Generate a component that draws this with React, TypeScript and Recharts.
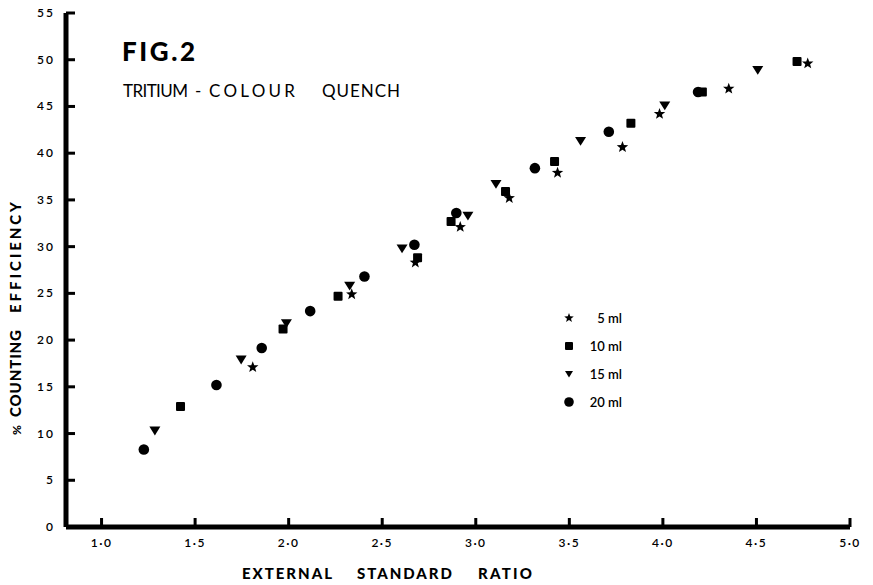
import React from 'react';
import { ScatterChart, Scatter, XAxis, YAxis, Legend, ReferenceLine } from 'recharts';

// % counting efficiency vs external standard ratio, per sample volume
const ml5X = [1.808, 2.337, 2.677, 2.917, 3.179, 3.437, 3.784, 3.982, 4.352, 4.774];
const ml5Y = [17.1, 24.9, 28.3, 32.1, 35.2, 37.9, 40.65, 44.2, 46.9, 49.6];

const ml10X = [1.422, 1.97, 2.264, 2.689, 2.868, 3.159, 3.421, 3.829, 4.211, 4.717];
const ml10Y = [12.9, 21.2, 24.7, 28.8, 32.7, 35.9, 39.1, 43.2, 46.55, 49.8];

const ml15X = [1.285, 1.746, 1.988, 2.326, 2.606, 2.958, 3.108, 3.56, 4.01, 4.507];
const ml15Y = [10.3, 17.9, 21.8, 25.8, 29.8, 33.3, 36.7, 41.3, 45.1, 48.9];

const ml20X = [1.226, 1.614, 1.856, 2.115, 2.405, 2.672, 2.896, 3.316, 3.711, 4.188];
const ml20Y = [8.3, 15.2, 19.15, 23.1, 26.8, 30.2, 33.6, 38.4, 42.3, 46.55];

const seriesNames = ['5 ml', '10 ml', '15 ml', '20 ml'];
const xTicks = [1, 1.5, 2, 2.5, 3, 3.5, 4, 4.5, 5];
const yTicks = [0, 5, 10, 15, 20, 25, 30, 35, 40, 45, 50, 55];
const X_MIN = 0.81;

const toPoints = (xs: number[], ys: number[]) => xs.map((x, i) => ({ x, y: ys[i] }));

const FONT = 'Lato, "Open Sans", sans-serif';
const INK = '#000';

function starPath(cx: number, cy: number, r: number) {
  const pts: string[] = [];
  for (let i = 0; i < 10; i++) {
    const rad = i % 2 === 0 ? r : r * 0.42;
    const a = -Math.PI / 2 + (i * Math.PI) / 5;
    pts.push(`${cx + rad * Math.cos(a)},${cy + rad * Math.sin(a)}`);
  }
  return `M${pts.join('L')}Z`;
}

const Star = ({ cx, cy, s = 6 }: any) => <path d={starPath(cx, cy, s)} fill={INK} />;
const Square = ({ cx, cy, s = 4.5 }: any) => (
  <rect x={cx - s} y={cy - s} width={s * 2} height={s * 2} rx={1} fill={INK} />
);
const TriDown = ({ cx, cy, s = 5.5 }: any) => (
  <path d={`M${cx - s},${cy - s * 0.75}L${cx + s},${cy - s * 0.75}L${cx},${cy + s * 0.85}Z`} fill={INK} />
);
const Dot = ({ cx, cy, s = 5.3 }: any) => <circle cx={cx} cy={cy} r={s} fill={INK} />;

const XTick = ({ x, y, payload }: any) => (
  <g>
    <rect x={x - 1.5} y={y - 19} width={3} height={9} fill={INK} />
    <text x={x} y={y + 10} textAnchor="middle" fontFamily={FONT} fontSize={12} fontWeight={600} letterSpacing={1.5} fill={INK}>
      {payload.value.toFixed(1).replace('.', '·')}
    </text>
  </g>
);

const YTick = ({ x, y, payload }: any) => (
  <g>
    <rect x={x + 12} y={y - 1.5} width={9} height={3} fill={INK} />
    <text x={x + 1} y={y + 4} textAnchor="end" fontFamily={FONT} fontSize={12} fontWeight={600} letterSpacing={2} fill={INK}>
      {payload.value}
    </text>
  </g>
);

const legendShapes = [Star, Square, TriDown, Dot];

const LegendBox = () => (
  <svg width={80} height={110}>
    {seriesNames.map((name, i) => {
      const Shape = legendShapes[i];
      const cy = 9 + i * 28;
      return (
        <g key={name}>
          <Shape cx={9} cy={cy} s={i === 0 ? 5 : i === 3 ? 4.8 : 4} />
          <text x={62} y={cy + 4.5} textAnchor="end" fontFamily={FONT} fontSize={13} fontWeight={600} fill={INK}>
            {name}
          </text>
        </g>
      );
    })}
  </svg>
);

// words placed with fixed extents so the spacing follows the printed figure
const Word = ({ x, y, w, size, weight = 400, children }: any) => (
  <text
    x={x}
    y={y}
    textLength={w}
    lengthAdjust="spacing"
    fontFamily={FONT}
    fontSize={size}
    fontWeight={weight}
    fill={INK}
  >
    {children}
  </text>
);

export default function App() {
  return (
    <div style={{ position: 'absolute', left: 0, top: 0, width: 873, height: 585, background: '#fff' }}>
      <ScatterChart width={873} height={585} margin={{ top: 13, right: 23, left: 0, bottom: 0 }}>
        <XAxis
          type="number"
          dataKey="x"
          domain={[X_MIN, 5]}
          ticks={xTicks}
          height={58}
          tickSize={0}
          tickMargin={10}
          tick={<XTick />}
          axisLine={false}
          allowDataOverflow
        />
        <YAxis
          type="number"
          dataKey="y"
          domain={[0, 55]}
          ticks={yTicks}
          width={66}
          tickSize={0}
          tickMargin={12}
          tick={<YTick />}
          axisLine={false}
          allowDataOverflow
        />
        <ReferenceLine y={0} stroke={INK} strokeWidth={5} ifOverflow="visible" />
        <ReferenceLine x={X_MIN} stroke={INK} strokeWidth={5} ifOverflow="visible" />
        <Legend
          layout="vertical"
          align="center"
          verticalAlign="middle"
          content={<LegendBox />}
          wrapperStyle={{ position: 'absolute', left: 560, top: 309, width: 80 }}
        />
        <Scatter name={seriesNames[0]} data={toPoints(ml5X, ml5Y)} shape={<Star />} isAnimationActive={false} />
        <Scatter name={seriesNames[1]} data={toPoints(ml10X, ml10Y)} shape={<Square />} isAnimationActive={false} />
        <Scatter name={seriesNames[2]} data={toPoints(ml15X, ml15Y)} shape={<TriDown />} isAnimationActive={false} />
        <Scatter name={seriesNames[3]} data={toPoints(ml20X, ml20Y)} shape={<Dot />} isAnimationActive={false} />
      </ScatterChart>

      <svg width={873} height={585} style={{ position: 'absolute', left: 0, top: 0, pointerEvents: 'none' }}>
        <Word x={122} y={61} w={73} size={26} weight={900}>FIG.2</Word>
        <Word x={123} y={97} w={65} size={17}>TRITIUM</Word>
        <Word x={195} y={97} w={10} size={17}>-</Word>
        <Word x={209} y={97} w={86} size={17}>COLOUR</Word>
        <Word x={322} y={97} w={78} size={17}>QUENCH</Word>

        <Word x={242} y={579} w={90} size={15} weight={900}>EXTERNAL</Word>
        <Word x={357} y={579} w={95} size={15} weight={900}>STANDARD</Word>
        <Word x={478} y={579} w={54} size={15} weight={900}>RATIO</Word>

        <g transform="translate(21, 0) rotate(-90)">
          <Word x={-313} y={0} w={111} size={15} weight={900}>EFFICIENCY</Word>
          <Word x={-417} y={0} w={87} size={15} weight={900}>COUNTING</Word>
          <Word x={-435} y={0} w={12} size={12} weight={900}>%</Word>
        </g>
      </svg>
    </div>
  );
}
